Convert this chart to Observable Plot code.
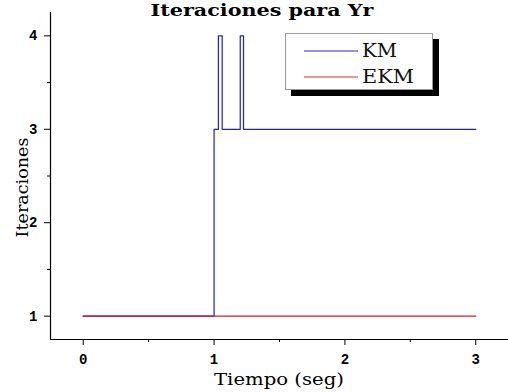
<!DOCTYPE html>
<html>
<head>
<meta charset="utf-8">
<script src="https://cdn.jsdelivr.net/npm/d3@7"></script>
<script src="https://cdn.jsdelivr.net/npm/@observablehq/plot@0.6"></script>
<style>
  html, body { margin: 0; padding: 0; background: #fff; }
  #wrap { position: relative; width: 508px; height: 392px; }
  #legend { position: absolute; left: 285px; top: 33px; width: 146px; height: 55px;
    border: 1px solid #9a9a9a; background: #fff; box-shadow: 6px 6px 0 0 #000; }
  #legend svg { position: absolute; left: 0; top: 0; }
</style>
</head>
<body>
<div id="wrap"></div>
<script>
// ---- data ----
const title = "Iteraciones para Yr";
const xLabel = "Tiempo (seg)";
const yLabel = "Iteraciones";
const seriesNames = ["KM", "EKM"];
const seriesColors = ["#2020c8", "#d02020"];
const legendColors = ["#6f6fe0", "#e87474"];
// KM: step-after points (tiempo, iteraciones)
const kmT = [0, 1.0, 1.033, 1.062, 1.2, 1.225, 3];
const kmV = [1, 3, 4, 3, 4, 3, 3];
// EKM
const ekmT = [0, 3];
const ekmV = [1, 1];
const xDomain = [-0.25, 3.25];
const yDomain = [0.75, 4.25];
const xTicks = [0, 1, 2, 3];
const xMinor = [0.5, 1.5, 2.5];
const yTicks = [1, 2, 3, 4];
const yMinor = [1.5, 2.5, 3.5];

const km = kmT.map((t, i) => ({t, v: kmV[i]}));
const ekm = ekmT.map((t, i) => ({t, v: ekmV[i]}));

const tickFont = {fontFamily: "Liberation Mono, monospace", fontWeight: "bold", fontSize: 14, tickFormat: "d"};

const chart = Plot.plot({
  width: 508, height: 392,
  marginLeft: 50, marginRight: 0, marginTop: 12, marginBottom: 53,
  style: {background: "#fff", color: "#000"},
  x: {domain: xDomain},
  y: {domain: yDomain},
  marks: [
    Plot.line(km, {x: "t", y: "v", curve: "step-after", stroke: seriesColors[0], strokeWidth: 1.2}),
    Plot.line(ekm, {x: "t", y: "v", stroke: seriesColors[1], strokeWidth: 1.2}),
    Plot.ruleX([xDomain[0]], {stroke: "#000", strokeWidth: 1.2}),
    Plot.ruleY([yDomain[0]], {stroke: "#000", strokeWidth: 1.2}),
    Plot.axisX({ticks: xTicks, tickSize: 6, tickPadding: 9, label: null, ...tickFont}),
    Plot.axisX({ticks: xMinor, tickSize: 3, tickFormat: () => "", label: null}),
    Plot.axisY({ticks: yTicks, tickSize: 6, tickPadding: 7, label: null, ...tickFont}),
    Plot.axisY({ticks: yMinor, tickSize: 3, tickFormat: () => "", label: null})
  ]
});
const wrap = document.getElementById("wrap");
wrap.appendChild(chart);

// titles drawn into the same SVG
const svg = d3.select(chart);
const xs = chart.scale("x"), ys = chart.scale("y");
const xMid = (xs.range[0] + xs.range[1]) / 2;
const yMid = (ys.range[0] + ys.range[1]) / 2;
const yBottom = Math.max(...ys.range);
svg.append("text")
  .attr("x", xMid - 17).attr("y", 16)
  .attr("text-anchor", "middle")
  .attr("textLength", 223).attr("lengthAdjust", "spacingAndGlyphs")
  .style("font-family", "DejaVu Serif, serif").style("font-weight", "bold")
  .style("font-size", "17px")
  .attr("fill", "#000").text(title);
svg.append("text")
  .attr("x", xMid).attr("y", yBottom + 46)
  .attr("text-anchor", "middle")
  .attr("textLength", 130).attr("lengthAdjust", "spacingAndGlyphs")
  .style("font-family", "DejaVu Serif, serif").style("font-size", "17px")
  .attr("fill", "#000").text(xLabel);
svg.append("text")
  .attr("transform", `translate(28,${yMid + 12}) rotate(-90)`)
  .attr("text-anchor", "middle")
  .attr("textLength", 100).attr("lengthAdjust", "spacingAndGlyphs")
  .style("font-family", "DejaVu Serif, serif").style("font-size", "17px")
  .attr("fill", "#000").text(yLabel);

// legend
const legend = document.createElement("div");
legend.id = "legend";
wrap.appendChild(legend);
const lsvg = d3.select(legend).append("svg").attr("width", 146).attr("height", 55);
const rowY = [17, 43];
const textW = [35, 52];
seriesNames.forEach((name, i) => {
  lsvg.append("line").attr("x1", 18).attr("x2", 72).attr("y1", rowY[i]).attr("y2", rowY[i])
    .attr("stroke", legendColors[i]).attr("stroke-width", 1.5);
  lsvg.append("text").attr("x", 76).attr("y", rowY[i] + 6)
    .attr("textLength", textW[i]).attr("lengthAdjust", "spacingAndGlyphs")
    .style("font-family", "DejaVu Serif, serif").style("font-size", "18px")
    .attr("fill", "#111").text(name);
});
</script>
</body>
</html>
